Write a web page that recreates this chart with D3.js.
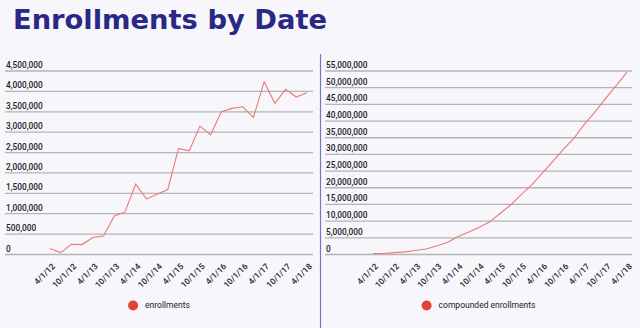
<!DOCTYPE html>
<html><head><meta charset="utf-8">
<script src="https://cdn.jsdelivr.net/npm/d3@7"></script>
<style>
html,body{margin:0;padding:0;background:#f6f6fb;}
svg{display:block;}
</style></head>
<body>
<svg id="c" width="640" height="328"></svg>
<script>
// ---- data ----
const dates = ["4/1/12","7/1/12","10/1/12","1/1/13","4/1/13","7/1/13","10/1/13","1/1/14","4/1/14","7/1/14","10/1/14","1/1/15","4/1/15","7/1/15","10/1/15","1/1/16","4/1/16","7/1/16","10/1/16","1/1/17","4/1/17","7/1/17","10/1/17","1/1/18","4/1/18"];
const tickLabels = ["4/1/12","10/1/12","4/1/13","10/1/13","4/1/14","10/1/14","4/1/15","10/1/15","4/1/16","10/1/16","4/1/17","10/1/17","4/1/18"];
const enrollments = [133000,34000,238000,231000,403000,442000,933000,1032000,1712000,1351000,1466000,1582000,2589000,2530000,3137000,2923000,3488000,3571000,3611000,3350000,4225000,3694000,4038000,3849000,3955000];
const compounded = [133000,167000,405000,636000,1039000,1481000,2414000,3446000,5158000,6509000,7975000,9557000,12146000,14676000,17813000,20736000,24224000,27795000,31406000,34756000,38981000,42675000,46713000,50562000,54517000];
const leftTicks = [0,500000,1000000,1500000,2000000,2500000,3000000,3500000,4000000,4500000];
const rightTicks = [0,5000000,10000000,15000000,20000000,25000000,30000000,35000000,40000000,45000000,50000000,55000000];
const seriesNames = ["enrollments","compounded enrollments"];
const titleText = "Enrollments by Date";

const svg = d3.select("#c");
const fmt = d3.format(",");

// title
svg.append("text")
  .attr("x", 13).attr("y", 28.5)
  .attr("font-family", "DejaVu Sans, sans-serif")
  .attr("font-weight", "bold")
  .attr("font-size", 26)
  .attr("fill", "#2a2886")
  .attr("textLength", 314)
  .attr("lengthAdjust", "spacingAndGlyphs")
  .text(titleText);

// divider
svg.append("line").attr("x1", 320.5).attr("x2", 320.5).attr("y1", 54).attr("y2", 328)
  .attr("stroke", "#7b74c4").attr("stroke-width", 1.2);

function panel(cfg) {
  const g = svg.append("g");
  const x = d3.scalePoint().domain(dates).range([cfg.dataX0, cfg.dataX1]);
  const y = d3.scaleLinear().domain([0, cfg.max]).range([254, 70.5]);

  // grid + y labels
  const yAxis = d3.axisLeft(y).tickValues(cfg.ticks).tickSize(0).tickFormat(fmt);
  const ya = g.append("g").attr("transform", `translate(${cfg.gx0},0)`).call(yAxis);
  ya.select(".domain").remove();
  ya.selectAll(".tick line").attr("x1", 0).attr("x2", cfg.gx1 - cfg.gx0)
    .attr("stroke", "#b4b4b8").attr("stroke-width", 1.3);
  ya.selectAll(".tick text").attr("x", 1).attr("dy", "-3").attr("text-anchor", "start")
    .attr("font-family", "Roboto, sans-serif").attr("font-weight", 500).attr("font-size", 8.3).attr("fill", "#222");

  // x labels
  const xAxis = d3.axisBottom(x).tickValues(tickLabels).tickSize(0);
  const xa = g.append("g").attr("transform", `translate(0,254)`).call(xAxis);
  xa.select(".domain").remove();
  xa.selectAll(".tick text")
    .attr("text-anchor", "end")
    .attr("font-family", "Roboto, sans-serif").attr("font-weight", 500).attr("font-size", 8.3).attr("fill", "#222")
    .attr("x", 0).attr("y", 0).attr("dy", 0)
    .attr("transform", "translate(5,13) rotate(-45)");

  // line
  const line = d3.line().x((d, i) => x(dates[i])).y(d => y(d));
  g.append("path").datum(cfg.values).attr("d", line)
    .attr("fill", "none").attr("stroke", "#ec7a74").attr("stroke-width", 1.1);

  // legend
  const lg = g.append("g");
  const lt = lg.append("text").attr("x", 12).attr("y", 0).attr("dy", "0.35em")
    .attr("font-family", "Roboto, sans-serif").attr("font-size", 8.5).attr("fill", "#222")
    .text(cfg.name);
  const tw = lt.node().getComputedTextLength();
  lg.append("circle").attr("cx", 0).attr("cy", 0).attr("r", 5).attr("fill", "#e2403a");
  const total = 5 + 12 + tw;
  const cx = (cfg.gx0 + cfg.gx1) / 2;
  lg.attr("transform", `translate(${cx - total / 2 + 5},305.5)`);
}

panel({gx0: 5, gx1: 313, dataX0: 50, dataX1: 307, max: 4500000, ticks: leftTicks, values: enrollments, name: seriesNames[0]});
panel({gx0: 325, gx1: 632, dataX0: 373, dataX1: 627, max: 55000000, ticks: rightTicks, values: compounded, name: seriesNames[1]});
</script>
</body></html>
